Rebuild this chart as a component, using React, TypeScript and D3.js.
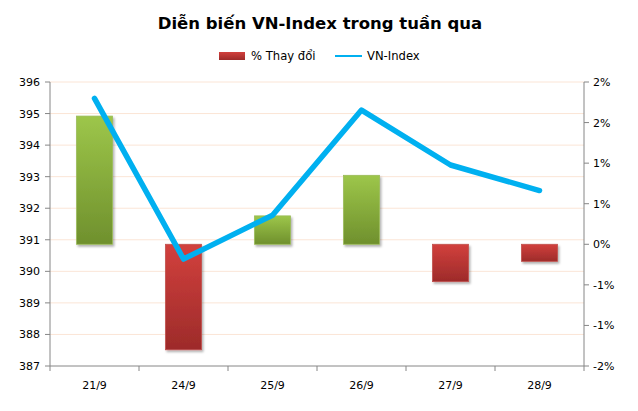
import React from 'react';
import * as d3 from 'd3';

// chart values
const categories = ['21/9', '24/9', '25/9', '26/9', '27/9', '28/9'];
const pctChange = [1.58, -1.3, 0.35, 0.85, -0.46, -0.21];
const vnIndex = [395.48, 390.39, 391.78, 395.11, 393.37, 392.56];

const leftTicks = [387, 388, 389, 390, 391, 392, 393, 394, 395, 396];
const rightTicks = [-1.5, -1, -0.5, 0, 0.5, 1, 1.5, 2];

const title = 'Diễn biến VN-Index trong tuần qua';
const legendBar = '% Thay đổi';
const legendLine = 'VN-Index';

const W = 638;
const H = 411;
const margin = { top: 82, right: 54, bottom: 45, left: 50 };
const font = 'Tahoma, "DejaVu Sans", Verdana, sans-serif';

const fmtPct = (v: number) => {
  // Excel-style rounding: half away from zero
  const r = Math.sign(v) * Math.round(Math.abs(v));
  return `${r === 0 ? 0 : r}%`;
};

export default function App() {
  const x = d3.scaleBand<string>()
    .domain(categories)
    .range([margin.left, W - margin.right]);

  const yLeft = d3.scaleLinear()
    .domain([387, 396])
    .range([H - margin.bottom, margin.top]);

  const yRight = d3.scaleLinear()
    .domain([-1.5, 2])
    .range([H - margin.bottom, margin.top]);

  const line = d3.line<number>()
    .x((_, i) => (x(categories[i]) ?? 0) + x.bandwidth() / 2)
    .y(d => yLeft(d));

  const barW = 36;
  const x0 = margin.left;
  const x1 = W - margin.right;
  const yBottom = H - margin.bottom;

  return (
    <svg width={W} height={H} style={{ position: 'absolute', left: 0, top: 0, background: '#fff' }}>
      <defs>
        <linearGradient id="gGreen" x1="0" y1="0" x2="0" y2="1">
          <stop offset="0%" stopColor="#9dc64a" />
          <stop offset="100%" stopColor="#6f902d" />
        </linearGradient>
        <linearGradient id="gRed" x1="0" y1="0" x2="0" y2="1">
          <stop offset="0%" stopColor="#d2403d" />
          <stop offset="100%" stopColor="#9d2b2a" />
        </linearGradient>
        <filter id="shadow" x="-20%" y="-20%" width="150%" height="150%">
          <feDropShadow dx="1.5" dy="2" stdDeviation="1.2" floodColor="#000" floodOpacity="0.3" />
        </filter>
      </defs>

      <text x={320} y={29} textAnchor="middle" fontFamily={font} fontWeight="bold" fontSize={16.5} fill="#000">
        {title}
      </text>

      {/* legend */}
      <rect x={219} y={52} width={26} height={8} fill="url(#gRed)" />
      <text x={251} y={60} fontFamily={font} fontSize={11.6} fill="#000">{legendBar}</text>
      <line x1={335} x2={362} y1={56} y2={56} stroke="#00b0f0" strokeWidth={2} />
      <text x={367} y={60} fontFamily={font} fontSize={11.6} fill="#000">{legendLine}</text>

      {/* gridlines */}
      {leftTicks.slice(1).map(t => (
        <line key={`g${t}`} x1={x0} x2={x1} y1={yLeft(t)} y2={yLeft(t)} stroke="#fbe5d6" strokeWidth={1} />
      ))}

      {/* bars */}
      {pctChange.map((v, i) => {
        const cx = (x(categories[i]) ?? 0) + x.bandwidth() / 2;
        const yTop = yRight(Math.max(0, v));
        const yBot = yRight(Math.min(0, v));
        return (
          <rect
            key={`b${i}`}
            x={cx - barW / 2}
            y={yTop}
            width={barW}
            height={yBot - yTop}
            fill={v >= 0 ? 'url(#gGreen)' : 'url(#gRed)'}
            stroke={v >= 0 ? '#9bbb59' : '#c0504d'}
            strokeWidth={0.8}
            filter="url(#shadow)"
          />
        );
      })}

      {/* line */}
      <path d={line(vnIndex) ?? ''} fill="none" stroke="#00b0f0" strokeWidth={5.5} strokeLinejoin="round" strokeLinecap="round" />

      {/* left axis */}
      <line x1={x0} x2={x0} y1={margin.top} y2={yBottom} stroke="#868686" />
      {leftTicks.map(t => (
        <g key={`l${t}`}>
          <line x1={x0 - 5} x2={x0} y1={yLeft(t)} y2={yLeft(t)} stroke="#868686" />
          <text x={x0 - 10} y={yLeft(t) + 4} textAnchor="end" fontFamily={font} fontSize={11} fill="#000">{t}</text>
        </g>
      ))}

      {/* right axis */}
      <line x1={x1} x2={x1} y1={margin.top} y2={yBottom} stroke="#868686" />
      {rightTicks.map(t => (
        <g key={`r${t}`}>
          <line x1={x1} x2={x1 + 5} y1={yRight(t)} y2={yRight(t)} stroke="#868686" />
          <text x={x1 + 9} y={yRight(t) + 4} textAnchor="start" fontFamily={font} fontSize={11} fill="#000">{fmtPct(t)}</text>
        </g>
      ))}

      {/* x axis */}
      <line x1={x0} x2={x1} y1={yBottom} y2={yBottom} stroke="#868686" />
      {categories.map((c, i) => {
        const bx = x(c) ?? 0;
        return (
          <g key={`x${c}`}>
            <line x1={bx} x2={bx} y1={yBottom} y2={yBottom + 5} stroke="#868686" />
            {i === categories.length - 1 && (
              <line x1={bx + x.bandwidth()} x2={bx + x.bandwidth()} y1={yBottom} y2={yBottom + 5} stroke="#868686" />
            )}
            <text x={bx + x.bandwidth() / 2} y={yBottom + 23} textAnchor="middle" fontFamily={font} fontSize={11} fill="#000">{c}</text>
          </g>
        );
      })}
    </svg>
  );
}
